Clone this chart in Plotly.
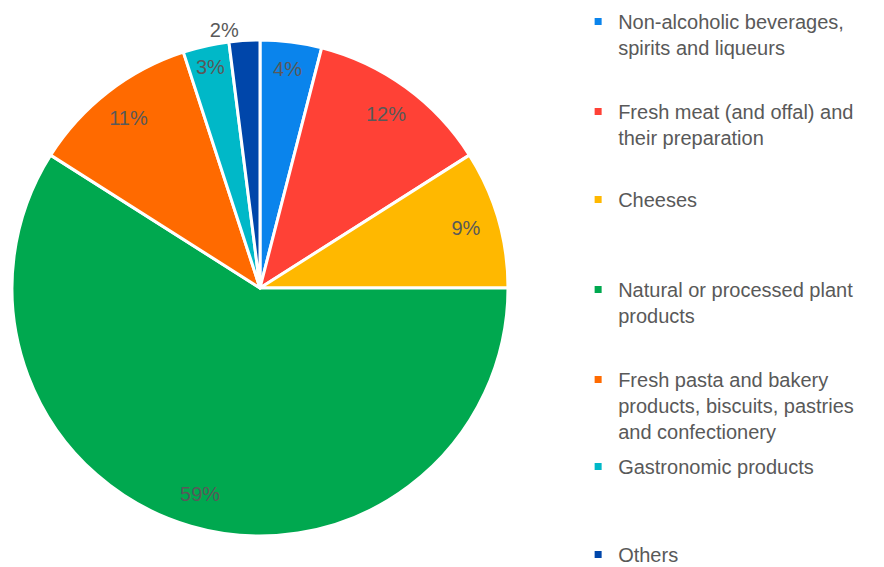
import plotly.graph_objects as go

categories = [
    "Non-alcoholic beverages,<br>spirits and liqueurs",
    "Fresh meat (and offal) and<br>their preparation",
    "Cheeses",
    "Natural or processed plant<br>products",
    "Fresh pasta and bakery<br>products, biscuits, pastries<br>and confectionery",
    "Gastronomic products",
    "Others",
]
shares = [4, 12, 9, 59, 11, 3, 2]
colors = ["#0A84EC", "#FF4136", "#FFB800", "#00A84F", "#FF6A00", "#00B8C8", "#0046AA"]
text_positions = ["inside", "inside", "inside", "inside", "inside", "inside", "outside"]
legend_y = [0.9965, 0.8378, 0.6825, 0.5238, 0.3651, 0.2116, 0.0565]

TXT = "#595959"
FONT = "Liberation Sans, Arial, sans-serif"
DOMAIN = dict(x=[12/884, 508/884], y=[1-536/567, 1-40/567])

fig = go.Figure()
# slices
fig.add_trace(go.Pie(
    labels=categories, values=shares, sort=False, direction="clockwise", rotation=0,
    marker=dict(colors=colors, line=dict(color="white", width=3)),
    textinfo="none",
    showlegend=False, domain=DOMAIN, hoverinfo="label+percent",
))
# percentage labels placed near the outer edge (transparent ring)
fig.add_trace(go.Pie(
    labels=categories, values=shares, sort=False, direction="clockwise", rotation=0,
    hole=0.73,
    marker=dict(colors=["rgba(0,0,0,0)"] * len(shares), line=dict(width=0)),
    texttemplate="%{value}%", textposition=text_positions,
    insidetextorientation="horizontal",
    textfont=dict(color=TXT, size=20, family=FONT),
    showlegend=False, domain=DOMAIN, hoverinfo="skip",
))

for i, (cat, col) in enumerate(zip(categories, colors)):
    lname = "legend" if i == 0 else f"legend{i+1}"
    fig.add_trace(go.Scatter(
        x=[None], y=[None], mode="markers",
        marker=dict(symbol="square", size=7, color=col),
        name=cat, legend=lname, showlegend=True,
    ))
    fig.update_layout({lname: dict(
        x=0.654, y=legend_y[i], xanchor="left", yanchor="top", valign="top",
        font=dict(color=TXT, size=20, family=FONT),
        bgcolor="rgba(0,0,0,0)", borderwidth=0,
    )})

fig.update_layout(
    width=884, height=567,
    margin=dict(l=0, r=0, t=0, b=0, autoexpand=False),
    paper_bgcolor="white", plot_bgcolor="white",
    xaxis=dict(visible=False), yaxis=dict(visible=False),
    font=dict(family=FONT, color=TXT),
)

fig.write_html("out.html")
